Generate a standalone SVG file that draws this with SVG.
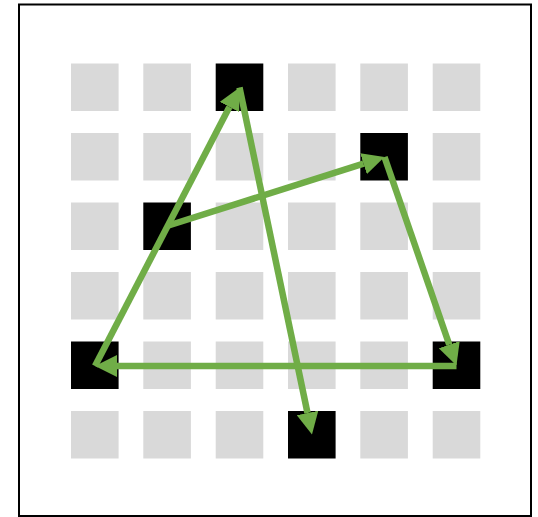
<svg xmlns="http://www.w3.org/2000/svg" width="538" height="517" viewBox="0 0 538 517">
<style>
.g{fill:#d9d9d9}
.b{fill:#000000}
.c{stroke:#70ad47;stroke-width:6.5;fill:none;marker-end:url(#ah)}
</style>
<defs>
<marker id="ah" markerUnits="userSpaceOnUse" markerWidth="22" markerHeight="22" viewBox="0 0 22 22" refX="0" refY="11" orient="auto">
<path d="M0,0 L22,11 L0,22 z" fill="#70ad47"/>
</marker>
</defs>
<rect x="19" y="4.5" width="512" height="511.5" fill="#ffffff" stroke="#000000" stroke-width="2"/>
<g id="grid">
<g id="r0c0"><rect class="g" x="71" y="63.5" width="47.6" height="47.5"/></g>
<g id="r0c1"><rect class="g" x="143.3" y="63.5" width="47.6" height="47.5"/></g>
<g id="r0c2"><rect class="b" x="215.7" y="63.5" width="47.6" height="47.5"/></g>
<g id="r0c3"><rect class="g" x="288" y="63.5" width="47.6" height="47.5"/></g>
<g id="r0c4"><rect class="g" x="360.3" y="63.5" width="47.6" height="47.5"/></g>
<g id="r0c5"><rect class="g" x="432.7" y="63.5" width="47.6" height="47.5"/></g>

<g id="r1c0"><rect class="g" x="71" y="133" width="47.6" height="47.5"/></g>
<g id="r1c1"><rect class="g" x="143.3" y="133" width="47.6" height="47.5"/></g>
<g id="r1c2"><rect class="g" x="215.7" y="133" width="47.6" height="47.5"/></g>
<g id="r1c3"><rect class="g" x="288" y="133" width="47.6" height="47.5"/></g>
<g id="r1c4"><rect class="b" x="360.3" y="133" width="47.6" height="47.5"/></g>
<g id="r1c5"><rect class="g" x="432.7" y="133" width="47.6" height="47.5"/></g>

<g id="r2c0"><rect class="g" x="71" y="202.5" width="47.6" height="47.5"/></g>
<g id="r2c1"><rect class="b" x="143.3" y="202.5" width="47.6" height="47.5"/></g>
<g id="r2c2"><rect class="g" x="215.7" y="202.5" width="47.6" height="47.5"/></g>
<g id="r2c3"><rect class="g" x="288" y="202.5" width="47.6" height="47.5"/></g>
<g id="r2c4"><rect class="g" x="360.3" y="202.5" width="47.6" height="47.5"/></g>
<g id="r2c5"><rect class="g" x="432.7" y="202.5" width="47.6" height="47.5"/></g>

<g id="r3c0"><rect class="g" x="71" y="272" width="47.6" height="47.5"/></g>
<g id="r3c1"><rect class="g" x="143.3" y="272" width="47.6" height="47.5"/></g>
<g id="r3c2"><rect class="g" x="215.7" y="272" width="47.6" height="47.5"/></g>
<g id="r3c3"><rect class="g" x="288" y="272" width="47.6" height="47.5"/></g>
<g id="r3c4"><rect class="g" x="360.3" y="272" width="47.6" height="47.5"/></g>
<g id="r3c5"><rect class="g" x="432.7" y="272" width="47.6" height="47.5"/></g>

<g id="r4c0"><rect class="b" x="71" y="341.5" width="47.6" height="47.5"/></g>
<g id="r4c1"><rect class="g" x="143.3" y="341.5" width="47.6" height="47.5"/></g>
<g id="r4c2"><rect class="g" x="215.7" y="341.5" width="47.6" height="47.5"/></g>
<g id="r4c3"><rect class="g" x="288" y="341.5" width="47.6" height="47.5"/></g>
<g id="r4c4"><rect class="g" x="360.3" y="341.5" width="47.6" height="47.5"/></g>
<g id="r4c5"><rect class="b" x="432.7" y="341.5" width="47.6" height="47.5"/></g>

<g id="r5c0"><rect class="g" x="71" y="411" width="47.6" height="47.5"/></g>
<g id="r5c1"><rect class="g" x="143.3" y="411" width="47.6" height="47.5"/></g>
<g id="r5c2"><rect class="g" x="215.7" y="411" width="47.6" height="47.5"/></g>
<g id="r5c3"><rect class="b" x="288" y="411" width="47.6" height="47.5"/></g>
<g id="r5c4"><rect class="g" x="360.3" y="411" width="47.6" height="47.5"/></g>
<g id="r5c5"><rect class="g" x="432.7" y="411" width="47.6" height="47.5"/></g>
</g>
<g id="connectors">
<line class="c" x1="167" y1="226" x2="363.5" y2="163.7"/>
<line class="c" x1="384.5" y1="157" x2="449.3" y2="344.7"/>
<line class="c" x1="456.5" y1="366" x2="117" y2="366"/>
<line class="c" x1="95" y1="366" x2="229.4" y2="107"/>
<line class="c" x1="239.5" y1="87.5" x2="307.5" y2="413"/>
</g>
</svg>
